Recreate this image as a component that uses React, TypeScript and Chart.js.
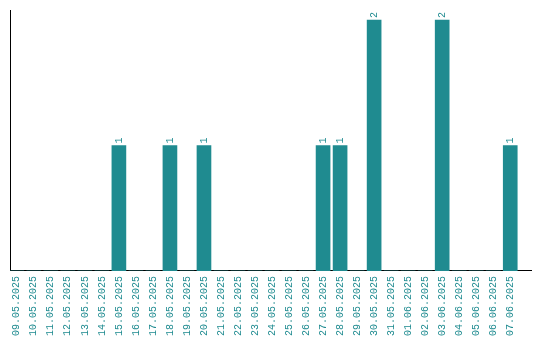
import React, { useEffect, useRef } from "react";
import { Chart, registerables } from "chart.js";

Chart.register(...registerables);

const categories: string[] = [
  "09.05.2025", "10.05.2025", "11.05.2025", "12.05.2025", "13.05.2025",
  "14.05.2025", "15.05.2025", "16.05.2025", "17.05.2025", "18.05.2025",
  "19.05.2025", "20.05.2025", "21.05.2025", "22.05.2025", "23.05.2025",
  "24.05.2025", "25.05.2025", "26.05.2025", "27.05.2025", "28.05.2025",
  "29.05.2025", "30.05.2025", "31.05.2025", "01.06.2025", "02.06.2025",
  "03.06.2025", "04.06.2025", "05.06.2025", "06.06.2025", "07.06.2025",
];

const counts: number[] = [
  0, 0, 0, 0, 0,
  0, 1, 0, 0, 1,
  0, 1, 0, 0, 0,
  0, 0, 0, 1, 1,
  0, 2, 0, 0, 0,
  2, 0, 0, 0, 1,
];

const TEAL = "#1f8b90";
const FONT = "'Liberation Mono', monospace";

const valueLabels = {
  id: "valueLabels",
  afterDatasetsDraw(chart: any) {
    const { ctx } = chart;
    const meta = chart.getDatasetMeta(0);
    ctx.save();
    ctx.fillStyle = TEAL;
    ctx.font = `10px ${FONT}`;
    ctx.textAlign = "left";
    ctx.textBaseline = "middle";
    meta.data.forEach((bar: any, i: number) => {
      const v = counts[i];
      if (!v) return;
      ctx.save();
      ctx.translate(bar.x + 0.5, bar.y - 2);
      ctx.rotate(-Math.PI / 2);
      ctx.fillText(String(v), 0, 0);
      ctx.restore();
    });
    ctx.restore();
  },
};

export default function App() {
  const ref = useRef<HTMLCanvasElement | null>(null);

  useEffect(() => {
    if (!ref.current) return;
    const chart = new Chart(ref.current, {
      type: "bar",
      data: {
        datasets: [
          {
            data: counts.map((v, i) => ({ x: i, y: v })),
            backgroundColor: TEAL,
            barThickness: 14,
          },
        ],
      },
      options: {
        animation: false,
        responsive: false,
        maintainAspectRatio: false,
        layout: { padding: { left: 10, top: 10, right: 9, bottom: -1 } },
        plugins: {
          legend: { display: false },
          tooltip: { enabled: false },
        },
        scales: {
          x: {
            type: "linear",
            min: -0.4,
            max: 30.22,
            offset: false,
            afterBuildTicks: (axis: any) => {
              axis.ticks = axis.ticks.filter(
                (t: any) => Number.isInteger(t.value) && t.value >= 0 && t.value < categories.length
              );
            },
            grid: { display: false, drawTicks: false },
            border: { display: true, color: "#000", width: 1 },
            ticks: {
              stepSize: 1,
              includeBounds: false,
              autoSkip: false,
              maxRotation: 90,
              minRotation: 90,
              padding: 5,
              color: TEAL,
              font: { family: FONT, size: 10 },
              callback: (value: any) => categories[Number(value)] ?? "",
            },
          },
          y: {
            min: 0,
            max: 2.08,
            grid: { display: false, drawTicks: false },
            border: { display: true, color: "#000", width: 1 },
            ticks: { display: false },
          },
        },
      },
      plugins: [valueLabels],
    });
    return () => chart.destroy();
  }, []);

  return (
    <div style={{ position: "fixed", left: 0, top: 0, width: 540, height: 340, background: "#fff" }}>
      <canvas ref={ref} width={540} height={340} style={{ width: 540, height: 340 }} />
    </div>
  );
}
